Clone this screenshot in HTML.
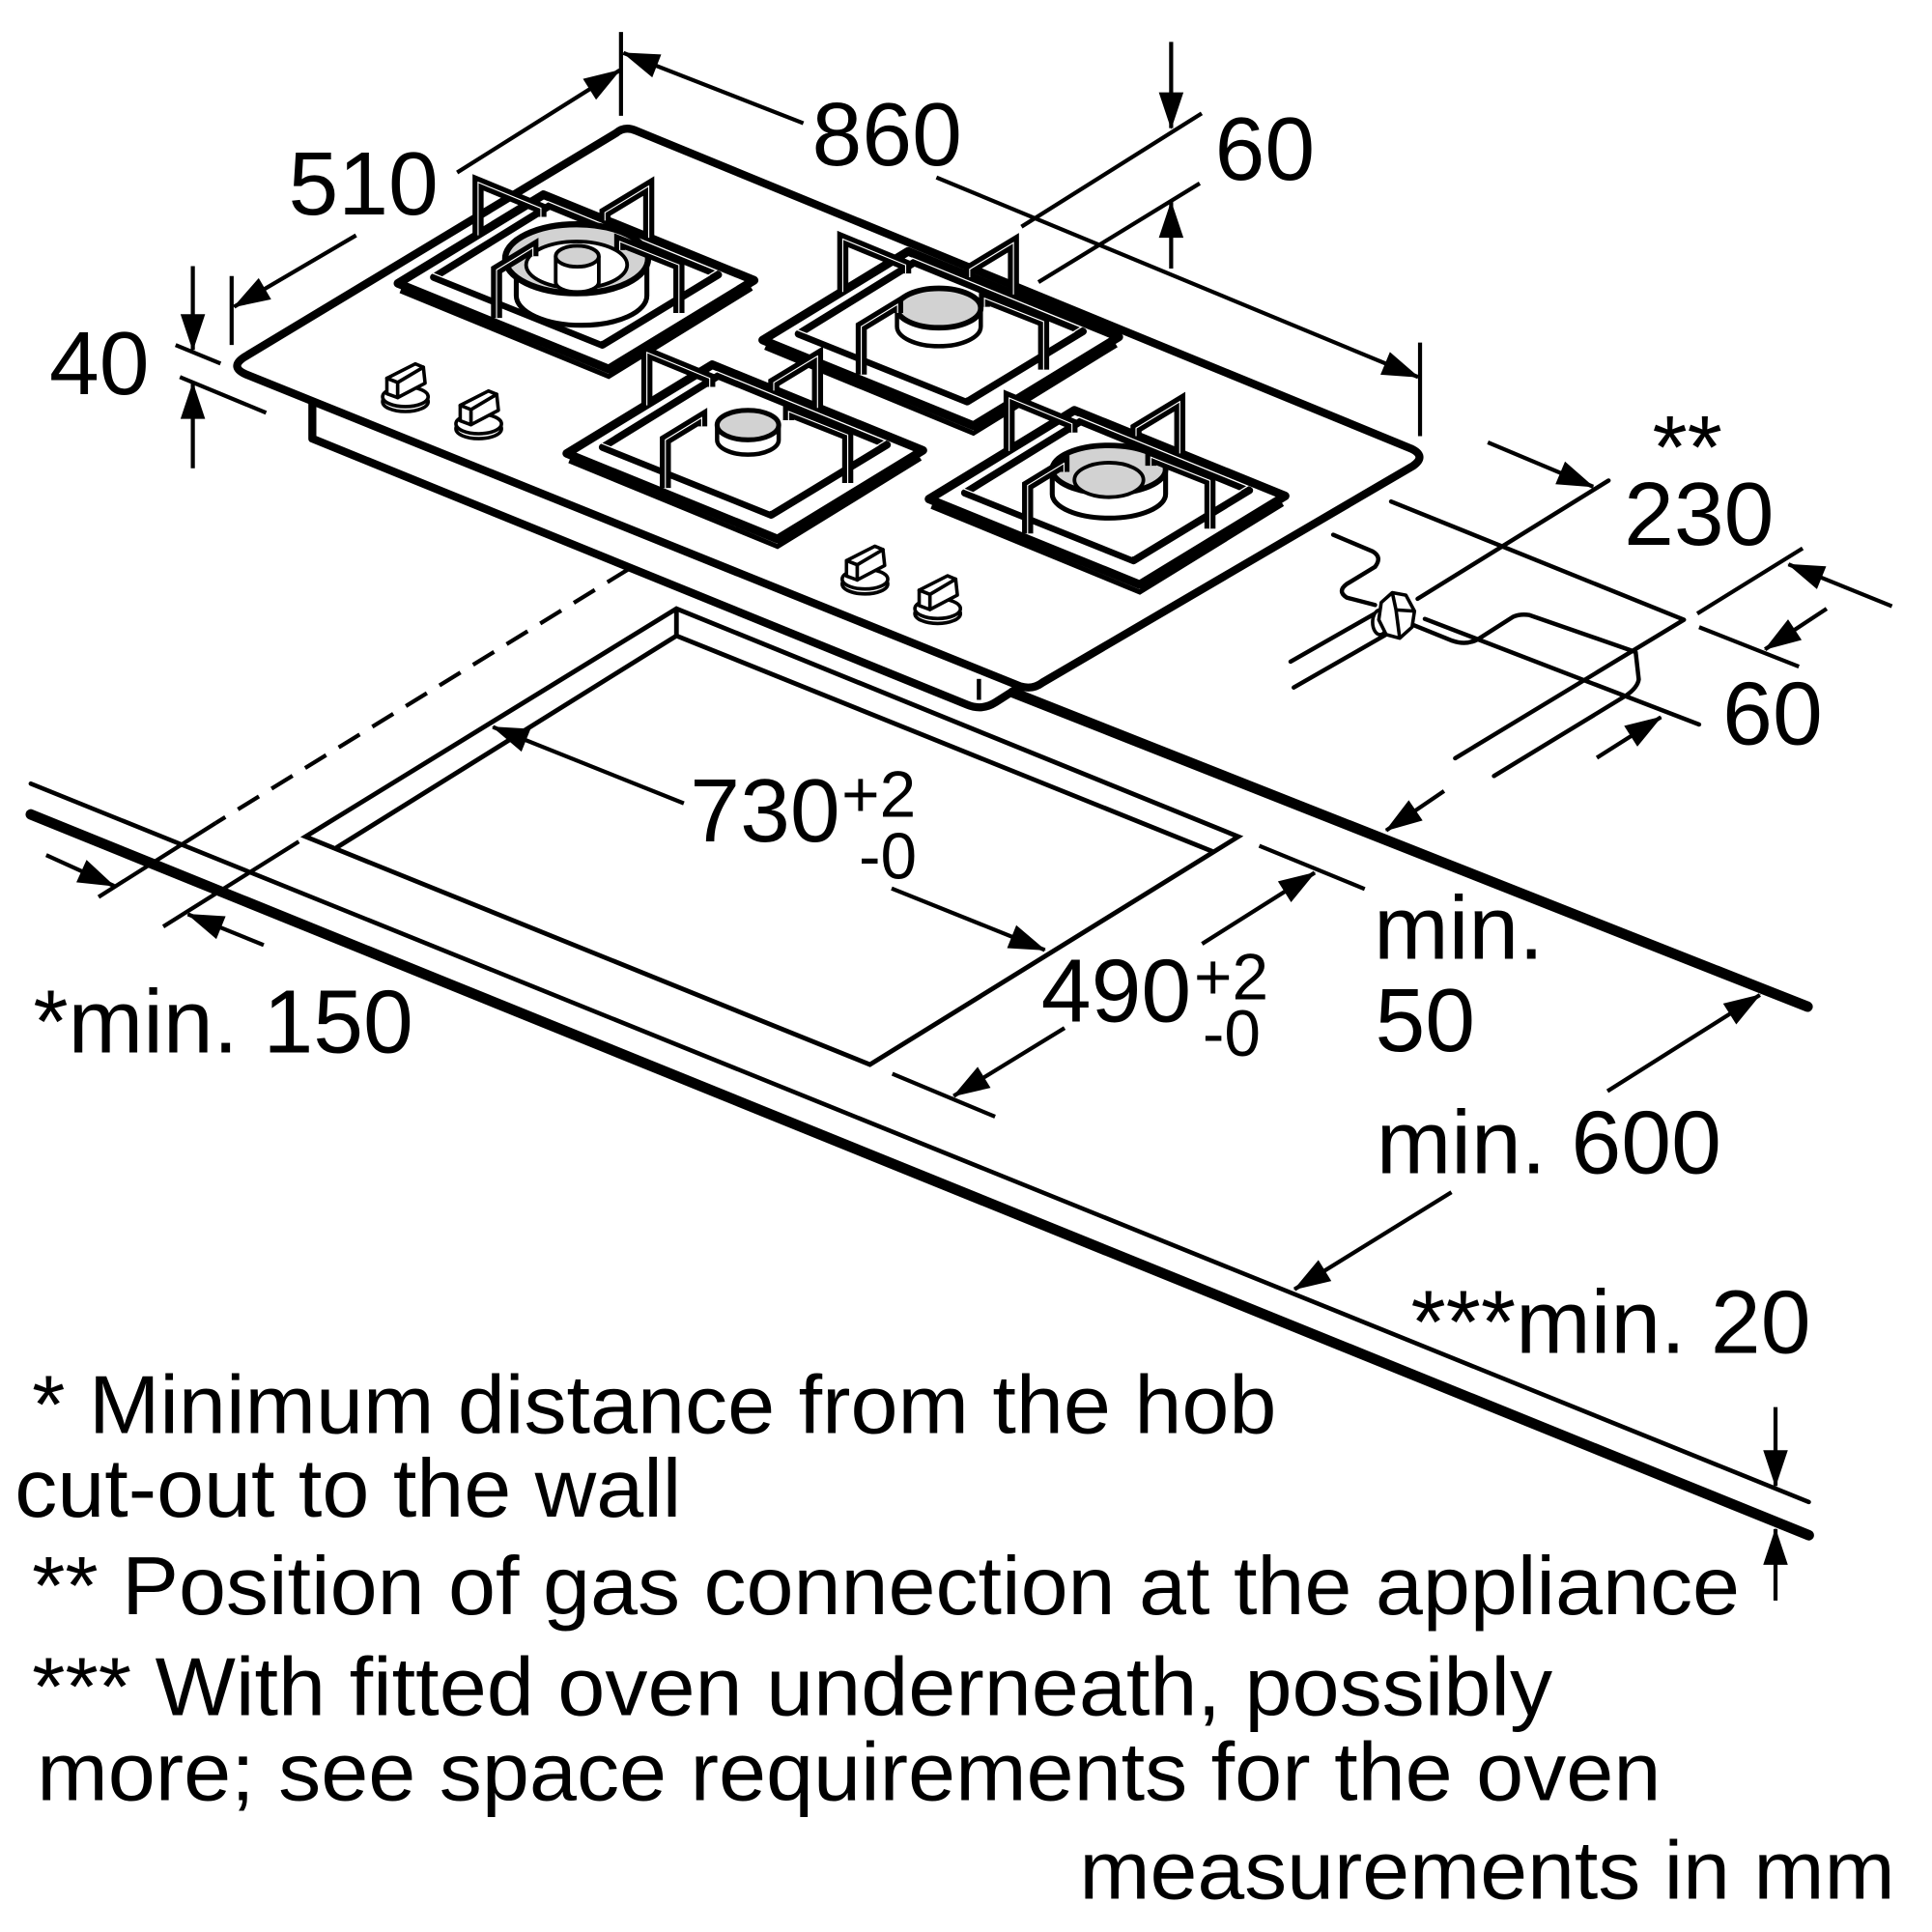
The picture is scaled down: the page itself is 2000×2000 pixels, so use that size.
<!DOCTYPE html>
<html><head><meta charset="utf-8">
<style>html,body{margin:0;padding:0;background:#fff;}svg{display:block}</style>
</head><body>
<svg width="2000" height="2000" viewBox="0 0 1568 1568" xmlns="http://www.w3.org/2000/svg" xmlns:xlink="http://www.w3.org/1999/xlink">
<defs>
<marker id="a" markerUnits="userSpaceOnUse" markerWidth="34" markerHeight="26" viewBox="-32 -13 34 26" refX="0" refY="0" orient="auto"><path d="M1,0 L-29,-10 L-29,10 Z" fill="#000"/></marker>
<g id="gr">
<polygon points="0,0 171,69.5 53,141.5 -118,72" fill="#fff" stroke="#000" stroke-width="7" stroke-linejoin="round"/>
<polyline points="-116,78 53,147.5 169,76" fill="none" stroke="#000" stroke-width="4"/>
<polygon points="5,9 142,65 48,122 -89,67" fill="#fff" stroke="#000" stroke-width="6" stroke-linejoin="round"/>
<polygon points="5,9 142,65 48,122 -89,67" fill="none" stroke="#fff" stroke-width="1" transform="translate(-1.5,-3.5)"/>
</g>
<g id="spp" fill="none">
<polyline points="-53,33 -53,-10 -2,11 -2,18"/>
<polyline points="85.5,35 85.5,-7 50,14.5 50,21"/>
<polyline points="-38,100 -38,61 -8.5,43 -8.5,50"/>
<polyline points="110,96 110,57 62,38 62,45"/>
</g>
<g id="sp">
<use xlink:href="#spp" href="#spp" stroke="#000" stroke-width="9"/>
<use xlink:href="#spp" href="#spp" stroke="#fff" stroke-width="0.9"/>
</g>
<g id="kn" fill="#fff" stroke="#000" stroke-width="2.8" stroke-linejoin="round">
<ellipse cx="0" cy="4" rx="18.5" ry="8"/>
<ellipse cx="0" cy="0" rx="18.5" ry="8"/>
<polygon points="-6.3,-11.6 14.6,-24 16,-11 -6.3,0.7"/>
<polygon points="-15,-15 8,-26.7 14.6,-24 -6.3,-11.6"/>
<polygon points="-15,-15 -6.3,-11.6 -6.3,0.7 -15,-2.5"/>
</g>
</defs>
<rect width="1568" height="1568" fill="#fff"/>

<!-- worktop -->
<g stroke="#000" fill="none" stroke-linecap="round">
<line x1="25" y1="636" x2="1468" y2="1219" stroke-width="3.6"/>
<line x1="25" y1="661" x2="1468" y2="1246" stroke-width="8.5"/>
<line x1="822" y1="562" x2="1467" y2="817" stroke-width="8.5"/>
</g>

<!-- cutout -->
<g stroke="#000" fill="none" stroke-width="3.8" stroke-linejoin="miter">
<polygon points="549,494 1005,679 706,864 248,679"/>
<polyline points="273,688 549,516 984,691"/>
<line x1="549" y1="494" x2="549" y2="516"/>
</g>

<!-- extension lines left -->
<g stroke="#000" fill="none" stroke-width="3.3">
<line x1="510" y1="462" x2="175" y2="668" stroke-dasharray="20 12"/>
<line x1="175" y1="668" x2="80" y2="728"/>
<line x1="242.5" y1="683" x2="132.5" y2="752"/>
</g>

<!-- hob underbody -->
<g stroke="#000" fill="none" stroke-linejoin="round">
<path d="M253.5,326 L253.5,356 L785,572 Q797,577 808,570 L822,561" stroke-width="6.5"/>
<line x1="794.5" y1="551" x2="794.5" y2="568" stroke-width="3.5"/>
</g>
<!-- hob top -->
<path d="M500,108 Q507,102 516,106 L1145,364 Q1158,370 1147,378 L846,554 Q838,560 828,557 L200,304 Q186,298 198,290 Z" fill="#fff" stroke="#000" stroke-width="6.5" stroke-linejoin="round"/>

<!-- grate 1 -->
<use xlink:href="#gr" href="#gr" transform="translate(441,158)"/>
<g stroke="#000" stroke-linejoin="round">
<path d="M419,212 L419,240 A53,24 0 0 0 525,240 L525,212" fill="#fff" stroke-width="4"/>
<ellipse cx="468" cy="210" rx="58" ry="28" fill="#d2d2d2" stroke-width="5"/>
<ellipse cx="468" cy="215" rx="41" ry="19" fill="#fff" stroke-width="3"/>
<path d="M451,208 L451,229 A17.5,8 0 0 0 486,229 L486,208" fill="#fff" stroke-width="3"/>
<ellipse cx="468.5" cy="208" rx="17.5" ry="8.5" fill="#d2d2d2" stroke-width="3"/>
</g>
<use xlink:href="#sp" href="#sp" transform="translate(441,158)"/>

<!-- grate 2 -->
<use xlink:href="#gr" href="#gr" transform="translate(737,204)"/>
<g stroke="#000" stroke-linejoin="round">
<path d="M728,250 L728,265 A34,16 0 0 0 796,265 L796,250" fill="#fff" stroke-width="3.5"/>
<ellipse cx="762" cy="250" rx="34" ry="16" fill="#d2d2d2" stroke-width="4.5"/>
</g>
<use xlink:href="#sp" href="#sp" transform="translate(737,204)"/>

<!-- grate 3 -->
<use xlink:href="#gr" href="#gr" transform="translate(578,296)"/>
<g stroke="#000" stroke-linejoin="round">
<path d="M582,345 L582,357 A25,12 0 0 0 632,357 L632,345" fill="#fff" stroke-width="3.5"/>
<ellipse cx="607" cy="345" rx="25" ry="12" fill="#d2d2d2" stroke-width="4"/>
</g>
<use xlink:href="#sp" href="#sp" transform="translate(578,296)"/>

<!-- grate 4 -->
<use xlink:href="#gr" href="#gr" transform="translate(872,333)"/>
<g stroke="#000" stroke-linejoin="round">
<path d="M854,381 L854,401 A46,19.5 0 0 0 946,401 L946,381" fill="#fff" stroke-width="4"/>
<ellipse cx="900" cy="381" rx="46" ry="19.5" fill="#d2d2d2" stroke-width="4.5"/>
<ellipse cx="900" cy="389.5" rx="28" ry="14" fill="#d2d2d2" stroke-width="3"/>
</g>
<use xlink:href="#sp" href="#sp" transform="translate(872,333)"/>

<!-- knobs -->
<use xlink:href="#kn" href="#kn" transform="translate(329,322)"/>
<use xlink:href="#kn" href="#kn" transform="translate(388.5,344)"/>
<use xlink:href="#kn" href="#kn" transform="translate(702,470)"/>
<use xlink:href="#kn" href="#kn" transform="translate(761,494)"/>

<!-- gas connection -->
<g stroke="#000" fill="none" stroke-width="3.5" stroke-linejoin="round" stroke-linecap="round">
<polyline points="1129,407 1366.7,503 1181,615.4"/>
<path d="M1143.3,505.7 L1178.6,520 Q1190,524 1199.5,518.8 L1228.2,500.5 Q1234,498 1241.3,499.2 L1327.5,529.2 L1330,551.4 Q1329,558 1319.7,564.5 L1212.5,629.8"/>
<path d="M1082,434 L1114,447.5 Q1122,452 1116,460 L1093,474 Q1085,480 1093,485 L1116,491"/>
<line x1="1047.4" y1="537" x2="1118.5" y2="496.5"/>
<line x1="1050" y1="558" x2="1127.6" y2="513.5"/>
<line x1="1156.4" y1="502.3" x2="1379" y2="588"/>
<line x1="1305.5" y1="390" x2="1150.5" y2="486"/>
</g>
<g stroke="#000" fill="#fff" stroke-width="2.8" stroke-linejoin="round">
<ellipse cx="1120" cy="505" rx="6" ry="10"/>
<polygon points="1121,489 1130,481 1141,483 1148,496 1146,509 1136,518 1125,515 1119,503"/>
<polyline points="1130,481 1133,495 1148,496" fill="none"/>
<polyline points="1133,495 1136,518" fill="none"/>
</g>

<!-- dimension & extension lines -->
<g stroke="#000" fill="none" stroke-width="3.3" stroke-linecap="butt">
<line x1="371" y1="140" x2="503" y2="57" marker-end="url(#a)"/>
<line x1="289" y1="191" x2="190" y2="249" marker-end="url(#a)"/>
<line x1="188" y1="224" x2="188" y2="280"/>
<line x1="504" y1="26" x2="504" y2="94"/>
<line x1="652" y1="100" x2="506" y2="43" marker-end="url(#a)"/>
<line x1="760" y1="144" x2="1151" y2="306" marker-end="url(#a)"/>
<line x1="1152.5" y1="278" x2="1152.5" y2="354"/>
<line x1="950.5" y1="34" x2="950.5" y2="104" marker-end="url(#a)"/>
<line x1="950.5" y1="218" x2="950.5" y2="164" marker-end="url(#a)"/>
<line x1="975.3" y1="92" x2="829" y2="184"/>
<line x1="973.7" y1="148.8" x2="842.8" y2="229"/>
<line x1="156.5" y1="216" x2="156.5" y2="284" marker-end="url(#a)"/>
<line x1="156.5" y1="380" x2="156.5" y2="311" marker-end="url(#a)"/>
<line x1="142.5" y1="280" x2="179" y2="295"/>
<line x1="146" y1="306" x2="216" y2="335"/>
<line x1="1207.5" y1="359" x2="1293" y2="395" marker-end="url(#a)"/>
<line x1="1535.5" y1="492" x2="1451.5" y2="458" marker-end="url(#a)"/>
<line x1="1463" y1="445" x2="1377.5" y2="498"/>
<line x1="1379" y1="509" x2="1460" y2="541"/>
<line x1="1482.5" y1="494" x2="1432.5" y2="527" marker-end="url(#a)"/>
<line x1="1296" y1="615" x2="1348" y2="582" marker-end="url(#a)"/>
<line x1="1172" y1="642" x2="1125" y2="674" marker-end="url(#a)"/>
<line x1="1022" y1="686.4" x2="1107.6" y2="721.5"/>
<line x1="724.2" y1="871.5" x2="807.6" y2="906.3"/>
<line x1="975.6" y1="766" x2="1067" y2="708.3" marker-end="url(#a)"/>
<line x1="864" y1="834.3" x2="774" y2="889.5" marker-end="url(#a)"/>
<line x1="555" y1="652" x2="400" y2="590" marker-end="url(#a)"/>
<line x1="723.6" y1="721" x2="848" y2="771" marker-end="url(#a)"/>
<line x1="37.5" y1="694" x2="92.5" y2="719" marker-end="url(#a)"/>
<line x1="214" y1="767" x2="152.5" y2="742" marker-end="url(#a)"/>
<line x1="1178" y1="967.6" x2="1050.6" y2="1046.4" marker-end="url(#a)"/>
<line x1="1304.6" y1="885.6" x2="1428.3" y2="807.5" marker-end="url(#a)"/>
<line x1="1441" y1="1142" x2="1441" y2="1206" marker-end="url(#a)"/>
<line x1="1441" y1="1299" x2="1441" y2="1241" marker-end="url(#a)"/>
</g>

<!-- labels -->
<g font-family="'Liberation Sans', Arial, Helvetica, sans-serif" fill="#000" font-size="73">
<text x="234" y="174">510</text>
<text x="659" y="134">860</text>
<text x="986" y="146">60</text>
<text x="40" y="320">40</text>
<text x="1341" y="388">**</text>
<text x="1318" y="442">230</text>
<text x="1398" y="604">60</text>
<text x="560" y="683">730</text>
<text x="683" y="663" font-size="53">+2</text>
<text x="697" y="713" font-size="53">-0</text>
<text x="845" y="829">490</text>
<text x="969" y="811" font-size="53">+2</text>
<text x="976" y="857" font-size="53">-0</text>
<text x="1115" y="778">min.</text>
<text x="1116" y="853">50</text>
<text x="27" y="854">*min. 150</text>
<text x="1117" y="952">min. 600</text>
<text x="1145" y="1098">***min. 20</text>
</g>
<g font-family="'Liberation Sans', Arial, Helvetica, sans-serif" fill="#000" font-size="67">
<text x="26" y="1163" textLength="1010" lengthAdjust="spacingAndGlyphs">* Minimum distance from the hob</text>
<text x="12" y="1231" textLength="541" lengthAdjust="spacingAndGlyphs">cut-out to the wall</text>
<text x="26" y="1310" textLength="1386" lengthAdjust="spacingAndGlyphs">** Position of gas connection at the appliance</text>
<text x="26" y="1392" textLength="1234" lengthAdjust="spacingAndGlyphs">*** With fitted oven underneath, possibly</text>
<text x="30" y="1461" textLength="1318" lengthAdjust="spacingAndGlyphs">more; see space requirements for the oven</text>
<text x="876" y="1541" textLength="662" lengthAdjust="spacingAndGlyphs">measurements in mm</text>
</g>
</svg>
</body></html>
